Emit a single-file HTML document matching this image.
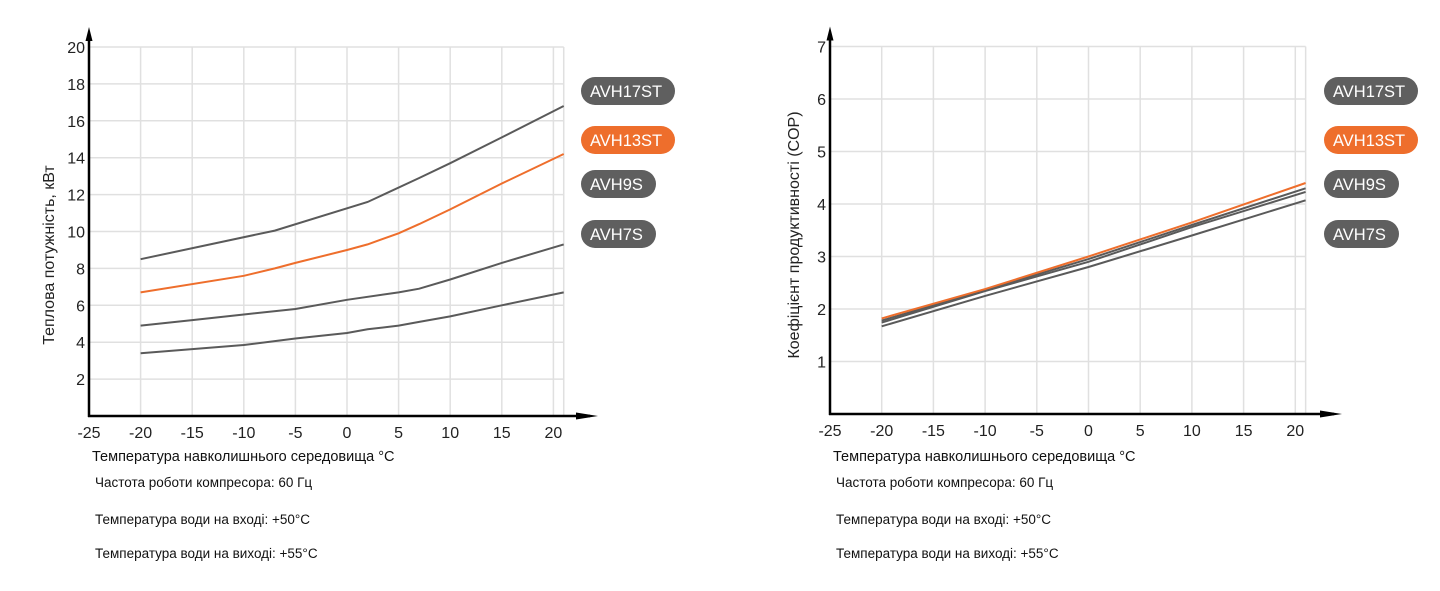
<!DOCTYPE html>
<html><head><meta charset="utf-8">
<style>
body{margin:0;background:#fff;width:1440px;height:591px;overflow:hidden;font-family:"Liberation Sans",sans-serif;}
svg{position:absolute;left:0;top:0}
</style></head>
<body>
<svg id="c" width="1440" height="591"></svg>
<script>
const xTicks=[-25,-20,-15,-10,-5,0,5,10,15,20];
const leftYTicks=[2,4,6,8,10,12,14,16,18,20];
const rightYTicks=[1,2,3,4,5,6,7];
const seriesNames=["AVH17ST","AVH13ST","AVH9S","AVH7S"];
const cap17x=[-20,-7,2,7,10,15,21];
const cap17y=[8.5,10.05,11.6,12.9,13.7,15.1,16.8];
const cap13x=[-20,-10,-7,-5,0,2,5,7,10,15,21];
const cap13y=[6.7,7.6,8.0,8.3,9.0,9.3,9.9,10.4,11.2,12.6,14.2];
const cap9x=[-20,-15,-10,-5,0,5,7,10,15,21];
const cap9y=[4.9,5.2,5.5,5.8,6.3,6.7,6.9,7.4,8.3,9.3];
const cap7x=[-20,-10,-5,0,2,5,7,10,15,21];
const cap7y=[3.4,3.85,4.2,4.5,4.7,4.9,5.1,5.4,6.0,6.7];
const copX=[-20,-10,0,10,21];
const cop17=[1.78,2.36,2.95,3.6,4.3];
const cop13=[1.82,2.38,3.0,3.65,4.4];
const cop9=[1.74,2.34,2.9,3.56,4.23];
const cop7=[1.67,2.25,2.8,3.4,4.07];

const svg=document.getElementById('c');
const NS='http://www.w3.org/2000/svg';
function mk(tag,at,parent){const e=document.createElementNS(NS,tag);for(const k in at)e.setAttribute(k,at[k]);(parent||svg).appendChild(e);return e;}

function chart(o){
  const g=mk('g',{});
  
  
  const X=v=>o.x0+(v+25)*o.xs, Y=v=>o.y0-v*o.ys;
  const right=X(21), top=Y(o.ymax);
  for(const t of o.yt){const l=mk('line',{x1:o.x0,x2:right,y1:Y(t),y2:Y(t),stroke:'#e0e0e0','stroke-width':1.5},g);
    }
  for(const t of xTicks.slice(1)){const l=mk('line',{x1:X(t),x2:X(t),y1:top,y2:o.y0,stroke:'#e0e0e0','stroke-width':1.5},g);
    }
  const rb=mk('line',{x1:right,x2:right,y1:top,y2:o.y0,stroke:'#e0e0e0','stroke-width':1.5},g);
  
  o.series.forEach((s,i)=>{
    const d=s.x.map((v,j)=>(j?'L':'M')+X(v).toFixed(1)+','+Y(s.y[j]).toFixed(1)).join('');
    const p=mk('path',{d:d,fill:'none',stroke:s.c,'stroke-width':2},g);
    
    
  });
  const ya=mk('line',{x1:o.x0,x2:o.x0,y1:o.y0+1,y2:top-12,stroke:'#000','stroke-width':2.5},g);
  
  const yar=mk('path',{d:`M${o.x0-3.5},${top-6}L${o.x0},${top-20}L${o.x0+3.5},${top-6}Z`,fill:'#000'},g);
  
  const xa=mk('line',{x1:o.x0-1,x2:o.xend-8,y1:o.y0,y2:o.y0,stroke:'#000','stroke-width':2.5},g);
  
  const xar=mk('path',{d:`M${o.xend-22},${o.y0-3.5}L${o.xend},${o.y0}L${o.xend-22},${o.y0+3.5}Z`,fill:'#000'},g);
  
  for(const t of o.yt){const tx=mk('text',{x:o.x0-4,y:Y(t)+6,'text-anchor':'end','font-size':16,fill:'#222'},g);tx.textContent=t;
    }
  for(const t of xTicks){const tx=mk('text',{x:X(t),y:o.y0+22,'text-anchor':'middle','font-size':16,fill:'#222'},g);tx.textContent=t;
    }
  const yt=mk('text',{x:0,y:0,transform:`translate(${o.ytx},${o.yty}) rotate(-90)`,'text-anchor':'middle','font-size':16,fill:'#222'},g);
  yt.textContent=o.ytitle;
  const xt=mk('text',{x:o.x0+3,y:461,'font-size':14.5,fill:'#111'},g);
  xt.textContent='Температура навколишнього середовища °C';
  const notes=['Частота роботи компресора: 60 Гц','Температура води на вході: +50°C','Температура води на виході: +55°C'];
  [487,524,558].forEach((yy,i)=>{const n=mk('text',{x:o.x0+6,y:yy,'font-size':13.5,fill:'#111'},g);n.textContent=notes[i];
    });
  const ly=[91,140,184,234], lw=[94,94,75,75], lc=['#5f5f5f','#ee6e2c','#5f5f5f','#5f5f5f'];
  seriesNames.forEach((nm,i)=>{
    const r=mk('rect',{x:o.lx,y:ly[i]-14,width:lw[i],height:28,rx:14,fill:lc[i]},g);
    
    const t=mk('text',{x:o.lx+9,y:ly[i]+6,'font-size':16.5,fill:'#fff'},g);t.textContent=nm;
    
  });
}
const G='#5a5a5a',O='#ee6e2c';
chart({name:'capacity-chart',x0:89,y0:416,xs:51.6/5,ys:18.45,ymax:20,yt:leftYTicks,xend:598,ytx:54,yty:255,
  ytitle:'Теплова потужність, кВт',lx:581,
  series:[{n:'AVH17ST',x:cap17x,y:cap17y,c:G},{n:'AVH13ST',x:cap13x,y:cap13y,c:O},{n:'AVH9S',x:cap9x,y:cap9y,c:G},{n:'AVH7S',x:cap7x,y:cap7y,c:G}]});
chart({name:'cop-chart',x0:830,y0:414,xs:51.7/5,ys:52.5,ymax:7,yt:rightYTicks,xend:1342,ytx:799,yty:235,
  ytitle:'Коефіцієнт продуктивності (COP)',lx:1324,
  series:[{n:'AVH17ST',x:copX,y:cop17,c:G},{n:'AVH9S',x:copX,y:cop9,c:G},{n:'AVH7S',x:copX,y:cop7,c:G},{n:'AVH13ST',x:copX,y:cop13,c:O}]});
</script>
</body></html>
